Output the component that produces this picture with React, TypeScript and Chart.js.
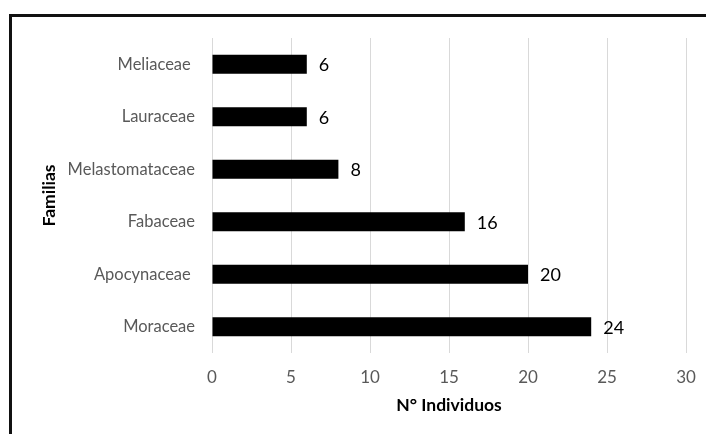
import React, { useEffect, useRef } from "react";
import { Chart, registerables } from "chart.js";

Chart.register(...registerables);

const familias = [
  "Meliaceae ",
  "Lauraceae",
  "Melastomataceae",
  "Fabaceae",
  "Apocynaceae ",
  "Moraceae",
];
const individuos = [6, 6, 8, 16, 20, 24];
const xTicks = [0, 5, 10, 15, 20, 25, 30];

const FONT = "Lato, 'Open Sans', sans-serif";

const valueLabels = {
  id: "valueLabels",
  afterDatasetsDraw(chart: any) {
    const { ctx } = chart;
    const meta = chart.getDatasetMeta(0);
    ctx.save();
    ctx.font = `18px ${FONT}`;
    ctx.fillStyle = "#000000";
    ctx.textAlign = "left";
    ctx.textBaseline = "middle";
    meta.data.forEach((bar: any, i: number) => {
      ctx.fillText(String(individuos[i]), bar.x + 12, bar.y + 1);
    });
    ctx.restore();
  },
};

export default function App() {
  const canvasRef = useRef<HTMLCanvasElement | null>(null);

  useEffect(() => {
    if (!canvasRef.current) return;
    const chart = new Chart(canvasRef.current, {
      type: "bar",
      data: {
        labels: familias,
        datasets: [
          {
            data: individuos,
            backgroundColor: "#000000",
            borderWidth: 0,
            categoryPercentage: 1,
            barPercentage: 0.36,
          },
        ],
      },
      options: {
        indexAxis: "y",
        animation: false,
        responsive: false,
        layout: { padding: { left: 39, top: 38, right: 20, bottom: 18.5 } },
        plugins: {
          legend: { display: false },
          tooltip: { enabled: false },
        },
        scales: {
          x: {
            min: 0,
            max: 30,
            afterBuildTicks: (scale: any) => {
              scale.ticks = xTicks.map((v) => ({ value: v }));
            },
            afterFit: (scale: any) => {
              scale.height = 62.5;
              scale.paddingLeft = 0;
              scale.paddingRight = 0;
            },
            grid: { color: "#d9d9d9", lineWidth: 1, drawTicks: false },
            border: { display: false },
            ticks: {
              padding: 14,
              color: "#595959",
              font: { family: FONT, size: 17 },
            },
            title: {
              display: true,
              text: "N° Individuos",
              color: "#000000",
              padding: 0,
              font: { family: FONT, size: 17.5, weight: "bold" },
            },
          },
          y: {
            afterFit: (scale: any) => {
              scale.width = 173;
            },
            grid: { display: false, drawTicks: false },
            border: { display: false },
            ticks: {
              padding: 17,
              color: "#595959",
              font: { family: FONT, size: 16.5 },
            },
            title: {
              display: true,
              text: "Familias",
              color: "#000000",
              padding: 0,
              font: { family: FONT, size: 17.5, weight: "bold" },
            },
          },
        },
      },
      plugins: [valueLabels],
    });
    return () => chart.destroy();
  }, []);

  return (
    <div style={{ position: "fixed", left: 0, top: 0, width: 706, height: 434, overflow: "hidden", background: "#ffffff" }}>
      <div
        style={{
          position: "absolute",
          left: 9,
          top: 14,
          width: 760,
          height: 480,
          borderTop: "3px solid #111111",
          borderLeft: "3px solid #111111",
          boxSizing: "border-box",
        }}
      />
      <canvas
        ref={canvasRef}
        width={706}
        height={434}
        style={{ position: "absolute", left: 0, top: 0, width: 706, height: 434 }}
      />
    </div>
  );
}
